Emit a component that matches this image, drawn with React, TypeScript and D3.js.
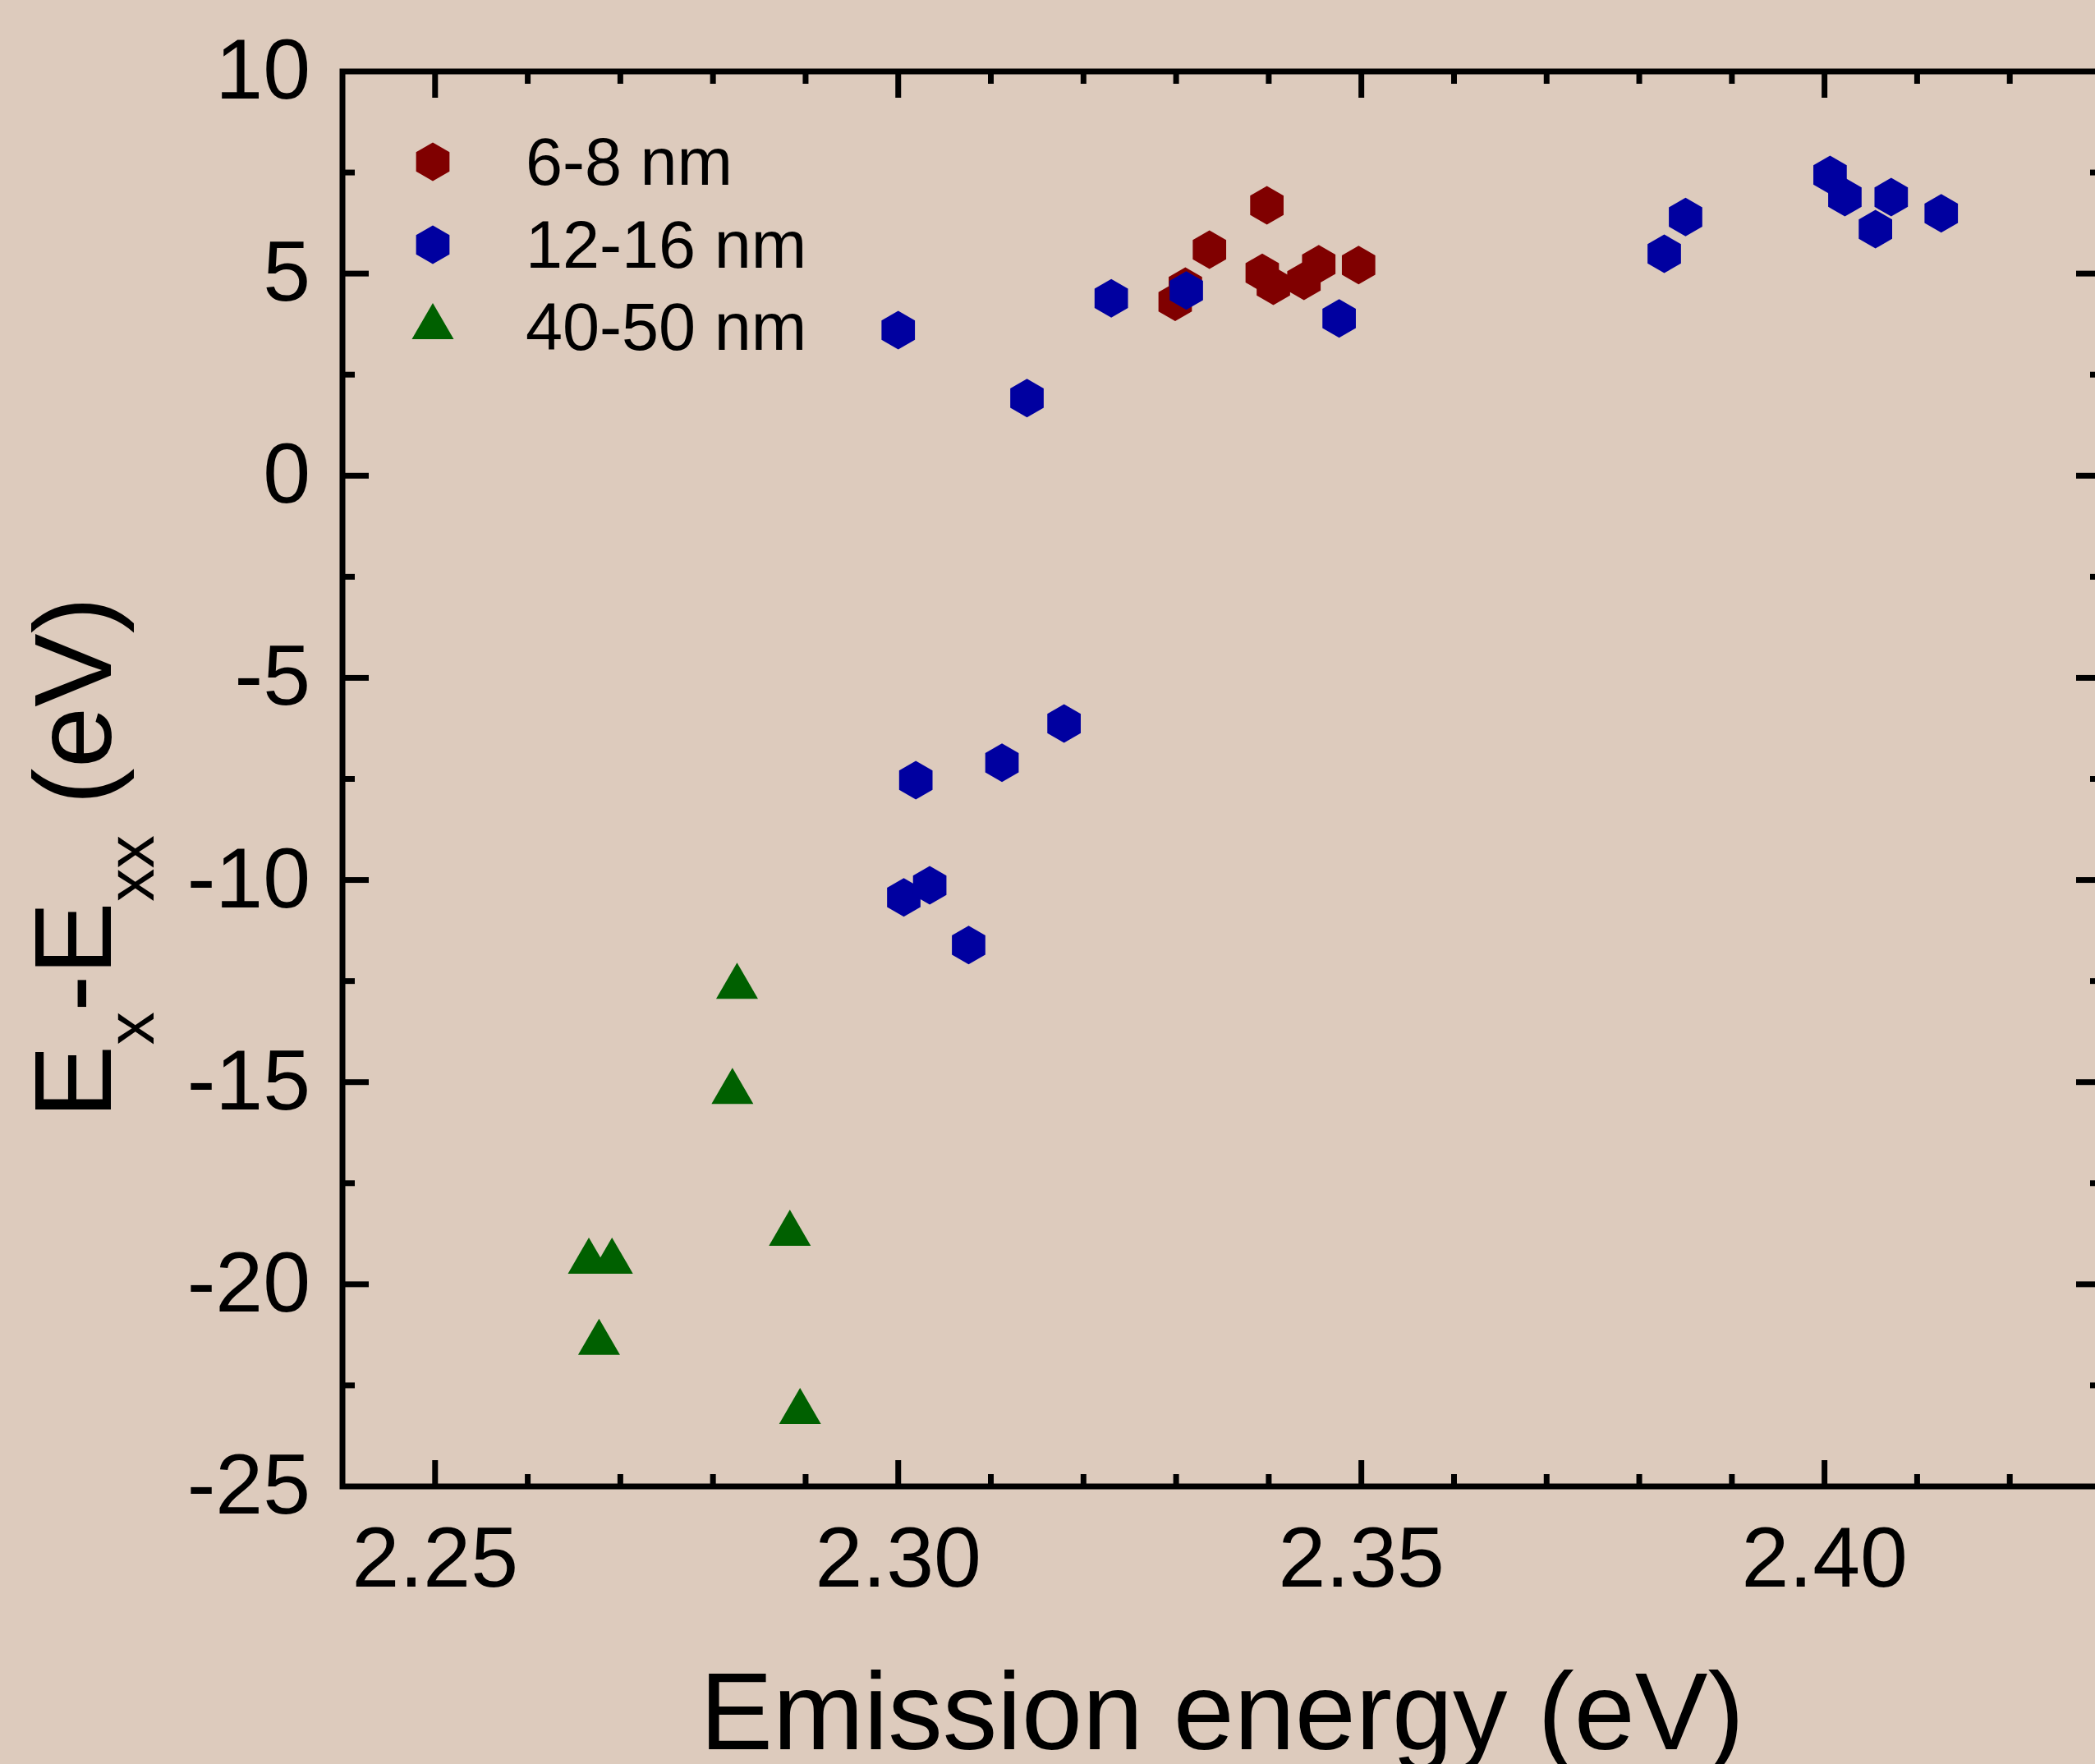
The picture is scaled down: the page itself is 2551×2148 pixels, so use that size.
import React, { useEffect, useRef } from 'react';
import * as d3 from 'd3';

// 6-8 nm
const smallX = [2.3398, 2.3336, 2.3393, 2.3405, 2.3438, 2.3454, 2.3497, 2.3310, 2.3299];
const smallY = [6.69, 5.59, 5.02, 4.70, 4.82, 5.23, 5.21, 4.68, 4.30];

// 12-16 nm
const mediumX = [2.3000, 2.3230, 2.3311, 2.3476, 2.3139, 2.3827, 2.3850, 2.4006, 2.4022, 2.4072,
  2.4055, 2.4126, 2.3019, 2.3112, 2.3179, 2.3006, 2.3034, 2.3076];
const mediumY = [3.60, 4.39, 4.58, 3.89, 1.92, 5.49, 6.40, 7.44, 6.89, 6.89,
  6.10, 6.49, -7.53, -7.10, -6.13, -10.43, -10.13, -11.61];

// 40-50 nm
const largeX = [2.2826, 2.2821, 2.2883, 2.2666, 2.2691, 2.2677, 2.2894];
const largeY = [-12.49, -15.09, -18.60, -19.29, -19.29, -21.30, -23.01];

const legendLabels = ['6-8 nm', '12-16 nm', '40-50 nm'];

const xMajor = [2.25, 2.30, 2.35, 2.40];
const xMinor = [2.26, 2.27, 2.28, 2.29, 2.31, 2.32, 2.33, 2.34, 2.36, 2.37, 2.38, 2.39, 2.41, 2.42];
const yMajor = [10, 5, 0, -5, -10, -15, -20, -25];
const yMinor = [7.5, 2.5, -2.5, -7.5, -12.5, -17.5, -22.5];

const FONT = "'Liberation Sans', Arial, sans-serif";

const App = () => {
  const chartRef = useRef<SVGSVGElement>(null);

  useEffect(() => {
    const width = 2551;
    const height = 2148;
    // plot frame
    const x0 = 417, x1 = 2560, y0 = 87, y1 = 1810;

    const xScale = d3.scaleLinear().domain([2.24, 2.43]).range([x0, x1]);
    const yScale = d3.scaleLinear().domain([-25, 10]).range([y1, y0]);

    const svg = d3.select(chartRef.current);
    svg.selectAll('*').remove();

    svg.append('rect')
      .attr('width', width)
      .attr('height', height)
      .attr('fill', '#DDCBBD');

    // marker shapes
    const hexR = 23.5;
    const hexPath = (cx, cy) => {
      const pts = d3.range(6).map(i => {
        const a = Math.PI / 2 + i * Math.PI / 3;
        return [cx + hexR * Math.cos(a), cy - hexR * Math.sin(a)];
      });
      return d3.line().curve(d3.curveLinearClosed)(pts);
    };
    const triW = 51, triH = 44;
    const triPath = (cx, cy) =>
      d3.line().curve(d3.curveLinearClosed)([
        [cx, cy - triH / 2],
        [cx + triW / 2, cy + triH / 2],
        [cx - triW / 2, cy + triH / 2],
      ]);

    const series = [
      { xs: smallX, ys: smallY, color: '#800000', shape: hexPath },
      { xs: mediumX, ys: mediumY, color: '#0000A0', shape: hexPath },
      { xs: largeX, ys: largeY, color: '#006000', shape: triPath },
    ];

    series.forEach(s => {
      svg.append('g')
        .selectAll('path')
        .data(s.xs.map((x, i) => [x, s.ys[i]]))
        .join('path')
        .attr('d', d => s.shape(xScale(d[0]), yScale(d[1])))
        .attr('fill', s.color);
    });

    // frame
    svg.append('rect')
      .attr('x', x0)
      .attr('y', y0)
      .attr('width', x1 - x0)
      .attr('height', y1 - y0)
      .attr('fill', 'none')
      .attr('stroke', '#000')
      .attr('stroke-width', 7);

    const ticks = svg.append('g').attr('stroke', '#000').attr('stroke-width', 7);
    const major = 32, minor = 15;
    const addX = (vals, len) => {
      vals.forEach(v => {
        const x = xScale(v);
        ticks.append('line').attr('x1', x).attr('x2', x).attr('y1', y1).attr('y2', y1 - len);
        ticks.append('line').attr('x1', x).attr('x2', x).attr('y1', y0).attr('y2', y0 + len);
      });
    };
    const addY = (vals, len) => {
      vals.forEach(v => {
        const y = yScale(v);
        ticks.append('line').attr('y1', y).attr('y2', y).attr('x1', x0).attr('x2', x0 + len);
        ticks.append('line').attr('y1', y).attr('y2', y).attr('x1', x1).attr('x2', x1 - len);
      });
    };
    addX(xMajor, major);
    addX(xMinor, minor);
    addY(yMajor.filter(v => v !== 10 && v !== -25), major);
    addY(yMinor, minor);

    // tick labels
    svg.append('g')
      .selectAll('text')
      .data(xMajor)
      .join('text')
      .attr('x', d => xScale(d))
      .attr('y', 1932)
      .attr('text-anchor', 'middle')
      .attr('font-family', FONT)
      .attr('font-size', 104)
      .text(d => d.toFixed(2));

    svg.append('g')
      .selectAll('text')
      .data(yMajor)
      .join('text')
      .attr('x', 378)
      .attr('y', d => yScale(d) + 33)
      .attr('text-anchor', 'end')
      .attr('font-family', FONT)
      .attr('font-size', 104)
      .text(d => String(d));

    // axis titles (the x title runs off the bottom edge, as in the original)
    svg.append('text')
      .attr('x', 1488)
      .attr('y', 2130)
      .attr('text-anchor', 'middle')
      .attr('font-family', FONT)
      .attr('font-size', 133)
      .text('Emission energy (eV)');

    const yTitle = svg.append('text')
      .attr('transform', 'translate(135,1362) rotate(-90)')
      .attr('font-family', FONT)
      .attr('font-size', 134);
    yTitle.append('tspan').text('E');
    yTitle.append('tspan').attr('font-size', 81).attr('dy', 52).text('x');
    yTitle.append('tspan').attr('dy', -52).text('-E');
    yTitle.append('tspan').attr('font-size', 81).attr('dy', 52).text('xx');
    yTitle.append('tspan').attr('dy', -52).text(' (eV)');

    // legend
    const legendY = [197, 298, 391];
    const legendBase = [225, 326, 426];
    series.forEach((s, i) => {
      svg.append('path')
        .attr('d', s.shape(527, legendY[i]))
        .attr('fill', s.color);
      svg.append('text')
        .attr('x', 640)
        .attr('y', legendBase[i])
        .attr('font-family', FONT)
        .attr('font-size', 81)
        .text(legendLabels[i]);
    });
  }, []);

  return (
    <svg
      ref={chartRef}
      width={2551}
      height={2148}
      style={{ position: 'absolute', left: 0, top: 0, display: 'block' }}
    />
  );
};

export default App;
